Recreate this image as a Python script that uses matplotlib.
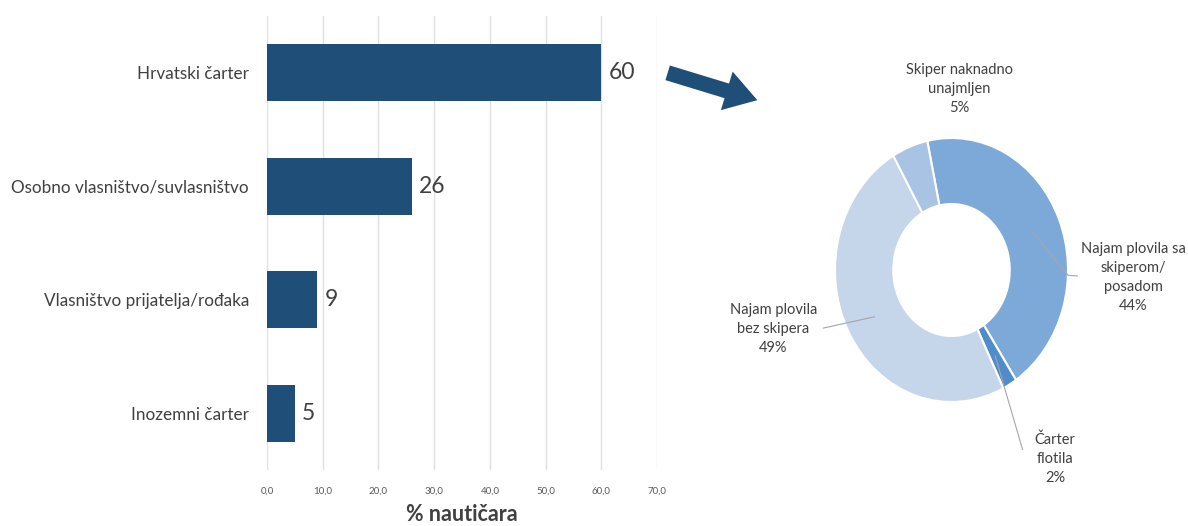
import numpy as np
import matplotlib
matplotlib.use('Agg')
import matplotlib.pyplot as plt

# Bar chart data
categories = ['Hrvatski čarter', 'Osobno vlasništvo/suvlasništvo',
              'Vlasništvo prijatelja/rođaka', 'Inozemni čarter']
values = [60, 26, 9, 5]
x_ticks = [0, 10, 20, 30, 40, 50, 60, 70]

# Donut data (clockwise, starting just left of top)
pie_labels = ['Najam plovila sa\nskiperom/\nposadom', 'Čarter\nflotila',
              'Najam plovila\nbez skipera', 'Skiper naknadno\nunajmljen']
pie_values = [44, 2, 49, 5]
pie_colors = ['#7DA9D9', '#4E8CCB', '#C5D5EA', '#A8C3E3']

BAR_COLOR = '#1F4E79'
TEXT_COLOR = '#404040'
W, H = 1188, 526

plt.rcParams['font.family'] = ['Lato', 'DejaVu Sans']

fig = plt.figure(figsize=(W / 100, H / 100), dpi=100)

# --- bar chart ---
ax = fig.add_axes([267 / W, 1 - 470 / H, 390 / W, 454 / H])
y = np.arange(len(categories))
ax.barh(y, values, height=0.5, color=BAR_COLOR, zorder=3)
ax.set_ylim(len(categories) - 0.5, -0.5)
ax.set_xlim(0, 70)
ax.set_xticks(x_ticks)
ax.set_xticklabels(['%d,0' % t for t in x_ticks], fontsize=7, color='#595959')
ax.set_yticks(y)
ax.set_yticklabels(categories, fontsize=12.3, color=TEXT_COLOR)
ax.tick_params(axis='x', length=0, pad=12)
ax.tick_params(axis='y', length=0, pad=13)
ax.grid(axis='x', color='#E0E0E0', linewidth=1, zorder=0)
for s in ax.spines.values():
    s.set_visible(False)
for yi, v in zip(y, values):
    ax.text(v + 1.3, yi, str(v), va='center', ha='left', fontsize=16.5, color=TEXT_COLOR)
ax.set_xlabel('% nautičara', fontsize=15.5, fontweight='bold', color=TEXT_COLOR, labelpad=6)

# arrow between the charts
fig.add_artist(plt.matplotlib.patches.FancyArrowPatch(
    (665 / W, 1 - 72 / H), (760 / W, 1 - 101 / H), transform=fig.transFigure,
    arrowstyle='simple,tail_width=0.55,head_width=1.45,head_length=1.15',
    mutation_scale=20, color=BAR_COLOR, lw=0))

# --- donut chart ---
pax = fig.add_axes([835 / W, 1 - 402 / H, 233 / W, 264 / H])
wedges, _ = pax.pie(pie_values, colors=pie_colors, startangle=102, counterclock=False,
                    wedgeprops=dict(width=0.5, edgecolor='white', linewidth=1.5))
pax.set_aspect('auto')
pax.set_xlim(-1, 1)
pax.set_ylim(-1, 1)

# label positions (data units of the donut axes) and leader line ends
label_pos = [(1.56, -0.06), (0.89, -1.43), (-1.53, -0.45), (0.07, 1.37)]
line_ends = [[(1.0, -0.04), (1.08, -0.045)], [(0.61, -1.36)], [(-1.10, -0.44)], None]

for w, lab, v, pos, ends in zip(wedges, pie_labels, pie_values, label_pos, line_ends):
    pax.text(pos[0], pos[1], '%s\n%d%%' % (lab, v), ha='center', va='center',
             fontsize=10.5, color=TEXT_COLOR, linespacing=1.45, clip_on=False)
    if ends:
        ang = np.deg2rad((w.theta1 + w.theta2) / 2)
        xs = [0.75 * np.cos(ang)] + [p[0] for p in ends]
        ys = [0.75 * np.sin(ang)] + [p[1] for p in ends]
        pax.plot(xs, ys, color='#A6A6A6', lw=0.8, clip_on=False)

fig.savefig('out.png', dpi=100)
